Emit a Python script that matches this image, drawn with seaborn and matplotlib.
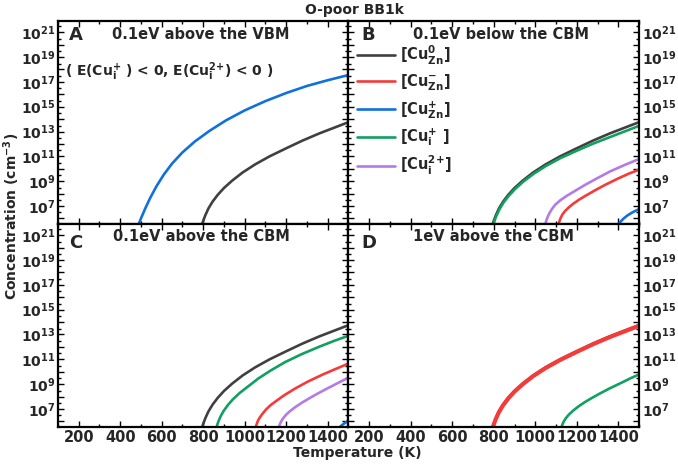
import numpy as np
import pandas as pd
import matplotlib
matplotlib.use("Agg")
import matplotlib.pyplot as plt
import matplotlib.ticker as mticker
import seaborn as sns

# ---------------- data (log10 of concentration) -------------
T_gray = [794, 800, 810, 825, 845, 870, 900, 940, 990, 1050, 1120, 1200, 1280, 1360, 1430, 1500]
lg_gray = [5.5, 5.8, 6.25, 6.8, 7.35, 7.9, 8.45, 9.05, 9.7, 10.35, 11.0, 11.65, 12.28, 12.85, 13.3, 13.75]

# Panel A
T_A_blue = [488, 500, 520, 545, 575, 610, 650, 700, 760, 830, 910, 1000, 1100, 1200, 1300, 1400, 1500]
lg_A_blue = [5.5, 6.0, 6.78, 7.67, 8.6, 9.53, 10.42, 11.32, 12.2, 13.05, 13.9, 14.7, 15.45, 16.1, 16.67, 17.13, 17.55]

# Panel B
T_B_green = [797, 803, 813, 828, 848, 873, 903, 943, 993, 1053, 1123, 1200, 1280, 1360, 1430, 1500]
lg_B_green = [5.5, 5.8, 6.22, 6.75, 7.3, 7.83, 8.37, 8.97, 9.6, 10.24, 10.87, 11.45, 12.03, 12.55, 13.0, 13.45]
T_B_purple = [1048, 1052, 1058, 1067, 1080, 1097, 1120, 1150, 1190, 1240, 1300, 1360, 1430, 1500]
lg_B_purple = [5.5, 5.75, 6.05, 6.38, 6.75, 7.12, 7.45, 7.8, 8.2, 8.7, 9.25, 9.78, 10.3, 10.78]
T_B_red = [1112, 1116, 1122, 1131, 1144, 1161, 1183, 1210, 1245, 1290, 1340, 1400, 1450, 1500]
lg_B_red = [5.5, 5.75, 6.02, 6.32, 6.6, 6.88, 7.18, 7.5, 7.85, 8.28, 8.73, 9.22, 9.6, 9.92]
T_B_blue = [1400, 1410, 1425, 1445, 1470, 1500]
lg_B_blue = [5.5, 5.72, 5.98, 6.25, 6.5, 6.75]

# Panel C
T_C_green = [864, 868, 875, 885, 899, 918, 943, 975, 1015, 1065, 1125, 1195, 1275, 1360, 1430, 1500]
lg_C_green = [5.5, 5.75, 6.08, 6.45, 6.86, 7.3, 7.78, 8.28, 8.8, 9.45, 10.1, 10.78, 11.42, 12.02, 12.48, 12.9]
T_C_red = [1053, 1057, 1063, 1072, 1085, 1102, 1124, 1152, 1190, 1240, 1300, 1370, 1435, 1500]
lg_C_red = [5.5, 5.75, 6.03, 6.3, 6.6, 6.95, 7.3, 7.65, 8.1, 8.62, 9.17, 9.73, 10.2, 10.66]
T_C_purple = [1164, 1168, 1175, 1185, 1200, 1220, 1245, 1275, 1310, 1350, 1400, 1450, 1500]
lg_C_purple = [5.5, 5.72, 5.98, 6.25, 6.55, 6.85, 7.17, 7.5, 7.85, 8.23, 8.67, 9.1, 9.53]
T_C_blue = [1455, 1470, 1485, 1500]
lg_C_blue = [5.5, 5.72, 5.9, 6.05]

# Panel D
T_D_red = [794, 800, 810, 825, 845, 870, 900, 940, 990, 1050, 1120, 1200, 1280, 1360, 1430, 1500]
lg_D_red = [5.45, 5.75, 6.2, 6.75, 7.3, 7.85, 8.4, 9.0, 9.65, 10.3, 10.95, 11.6, 12.23, 12.8, 13.25, 13.7]
T_D_green = [1126, 1130, 1137, 1147, 1162, 1182, 1207, 1237, 1272, 1312, 1360, 1420, 1460, 1500]
lg_D_green = [5.5, 5.72, 5.98, 6.25, 6.55, 6.86, 7.19, 7.53, 7.88, 8.25, 8.67, 9.15, 9.48, 9.78]

series_names = ["CuZn0", "CuZn-", "CuZn+", "Cui+", "Cui2+"]
legend_labels = [r"[Cu$^{0}_{Zn}$]", r"[Cu$^{-}_{Zn}$]", r"[Cu$^{+}_{Zn}$]",
                 r"[Cu$^{+}_{i}$ ]", r"[Cu$^{2{+}}_{i}$]"]
colors = {"CuZn0": "#404040", "CuZn-": "#f53a3a", "CuZn+": "#1070dc",
          "Cui+": "#10a060", "Cui2+": "#b47ae6"}

panel_titles = ["0.1eV above the VBM", "0.1eV below the CBM",
                "0.1eV above the CBM", "1eV above the CBM"]
panel_letters = ["A", "B", "C", "D"]

panels = {
    "A": [("CuZn+", T_A_blue, lg_A_blue), ("CuZn0", T_gray, lg_gray)],
    "B": [("CuZn0", T_gray, lg_gray), ("CuZn-", T_B_red, lg_B_red),
          ("CuZn+", T_B_blue, lg_B_blue), ("Cui+", T_B_green, lg_B_green),
          ("Cui2+", T_B_purple, lg_B_purple)],
    "C": [("CuZn0", T_gray, lg_gray), ("CuZn-", T_C_red, lg_C_red),
          ("CuZn+", T_C_blue, lg_C_blue), ("Cui+", T_C_green, lg_C_green),
          ("Cui2+", T_C_purple, lg_C_purple)],
    "D": [("CuZn0", T_gray, lg_gray), ("CuZn-", T_D_red, lg_D_red),
          ("Cui+", T_D_green, lg_D_green)],
}

# ---------------- style -------------
sns.set_theme(style="ticks")
plt.rcParams["font.family"] = ["DejaVu Sans"]
plt.rcParams["font.weight"] = "bold"
plt.rcParams["mathtext.fontset"] = "custom"
plt.rcParams["mathtext.rm"] = "DejaVu Sans:bold"
plt.rcParams["mathtext.it"] = "DejaVu Sans:bold"
plt.rcParams["mathtext.bf"] = "DejaVu Sans:bold"
plt.rcParams["mathtext.default"] = "rm"

fig, axes = plt.subplots(2, 2, figsize=(6.78, 4.69), dpi=100)
fig.subplots_adjust(left=0.0855, right=0.9425, top=0.9552, bottom=0.0896,
                    wspace=0, hspace=0)

def fmt(v, p):
    e = int(round(np.log10(v)))
    if e % 2 == 1:
        return r"$10^{%d}$" % e
    return ""

for idx, key in enumerate(["A", "B", "C", "D"]):
    ax = axes.flat[idx]
    for name, T, lg in panels[key]:
        df = pd.DataFrame({"T": T, "C": np.power(10.0, lg)})
        lw = 3.0 if (key == "D" and name == "CuZn-") else 1.9
        sns.lineplot(data=df, x="T", y="C", ax=ax, color=colors[name], lw=lw,
                     label=legend_labels[series_names.index(name)], legend=False,
                     sort=False)
    ax.set_yscale("log")
    ax.set_xlim(100, 1500)
    ax.set_ylim(10 ** 5.55, 10 ** 21.9)
    ax.set_xlabel("")
    ax.set_ylabel("")
    ax.xaxis.set_major_locator(mticker.MultipleLocator(200))
    ax.xaxis.set_minor_locator(mticker.MultipleLocator(100))
    ax.yaxis.set_major_locator(mticker.LogLocator(base=10, numticks=40))
    ax.yaxis.set_minor_locator(mticker.LogLocator(base=10, subs=(3.0,), numticks=40))
    ax.yaxis.set_major_formatter(mticker.FuncFormatter(fmt))
    ax.yaxis.set_minor_formatter(mticker.NullFormatter())
    if key in ("C", "D"):
        ax.xaxis.set_major_formatter(mticker.FuncFormatter(
            lambda v, p: "%d" % v if 200 <= v <= 1400 else ""))
    else:
        ax.xaxis.set_major_formatter(mticker.NullFormatter())
    ax.tick_params(which="both", direction="in", top=True, bottom=True,
                   left=True, right=True, width=1.0, color="black", pad=2)
    ax.tick_params(axis="x", labelsize=10.5)
    ax.tick_params(axis="y", labelsize=10)
    ax.tick_params(which="major", length=4)
    ax.tick_params(which="minor", length=2)
    for s in ax.spines.values():
        s.set_linewidth(1.6)
        s.set_color("black")
    if key in ("B", "D"):
        ax.tick_params(which="both", labelleft=False, labelright=True)
    if key in ("A", "B"):
        ax.tick_params(which="both", labelbottom=False)
    for lab in ax.get_xticklabels() + ax.get_yticklabels():
        lab.set_fontweight("bold")

    # titles & letters
    if key in ("A", "B"):
        ty, ly = 0.936, 0.93
    else:
        ty, ly = 0.936, 0.905
    tx = {"A": 0.493, "B": 0.526, "C": 0.493, "D": 0.5}[key]
    lx = {"A": 0.06, "B": 0.069, "C": 0.06, "D": 0.069}[key]
    ax.text(tx, ty, panel_titles[idx], transform=ax.transAxes, ha="center", va="center",
            fontsize=10.5, fontweight="bold")
    ax.text(lx, ly, panel_letters[idx], transform=ax.transAxes, ha="center", va="center",
            fontsize=13, fontweight="bold")

# annotation in A
axes[0, 0].text(0.024, 0.748, r"( E(Cu$^{+}_{i}$ ) < 0, E(Cu$^{2{+}}_{i}$) < 0 )",
                transform=axes[0, 0].transAxes, ha="left", va="center",
                fontsize=10, fontweight="bold")

# legend in B
axB = axes[0, 1]
handles = {}
for ln in axB.get_lines():
    handles[ln.get_label()] = ln
hl = [handles[l] for l in legend_labels]
leg = axB.legend(hl, legend_labels, loc="upper left", bbox_to_anchor=(0.03, 0.89),
                 frameon=False, fontsize=10.5, handlelength=2.6, handletextpad=0.35,
                 labelspacing=0.4, borderpad=0, borderaxespad=0)
for t in leg.get_texts():
    t.set_fontweight("bold")

fig.text(0.523, 0.979, "O-poor BB1k", ha="center", va="center", fontsize=10, fontweight="bold")
fig.text(0.527, 0.034, "Temperature (K)", ha="center", va="center", fontsize=10, fontweight="bold")
fig.text(0.017, 0.539, r"Concentration (cm$^{-3}$)", ha="center", va="center",
         rotation=90, fontsize=10, fontweight="bold")

fig.savefig("out.png", dpi=100)
